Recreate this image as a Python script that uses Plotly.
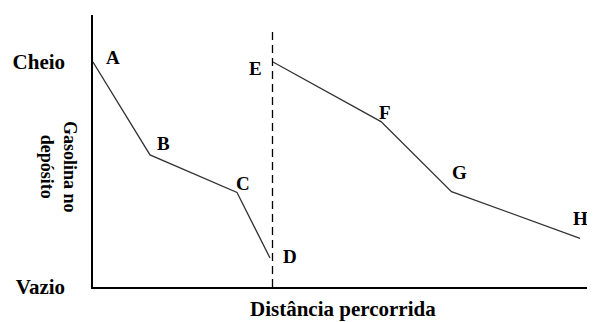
import plotly.graph_objects as go

# trecho antes do reabastecimento (A-D) e depois (E-H)
labels_1 = ['A', 'B', 'C', 'D']
dist_1 = [0.0, 1.14, 2.88, 3.54]
gas_1 = [1.0, 0.587, 0.42, 0.129]

labels_2 = ['E', 'F', 'G', 'H']
dist_2 = [3.6, 5.76, 7.17, 9.74]
gas_2 = [1.0, 0.735, 0.424, 0.216]

refuel_x = 3.59
level_ticks = [0, 1]
level_text = ['Vazio', 'Cheio']

serif = dict(family='Liberation Serif', color='black', weight='bold')

fig = go.Figure()
for xs, ys in [(dist_1, gas_1), (dist_2, gas_2)]:
    fig.add_trace(go.Scatter(x=xs, y=ys, mode='lines',
                             line=dict(color='#333333', width=1.3),
                             showlegend=False, hoverinfo='skip'))

# dashed line where the tank is refilled
fig.add_shape(type='line', x0=refuel_x, x1=refuel_x, y0=0, y1=1.151,
              line=dict(color='black', width=1.3, dash='8px,5px'))

# point letters (pixel offsets from each point)
offsets = {'A': (20, 5), 'B': (13, 11), 'C': (6, 9), 'D': (20, 1),
           'E': (-18, -6), 'F': (4, 9), 'G': (8, 19), 'H': (0, 20)}
for labs, xs, ys in [(labels_1, dist_1, gas_1), (labels_2, dist_2, gas_2)]:
    for lab, x, y in zip(labs, xs, ys):
        dx, dy = offsets[lab]
        fig.add_annotation(x=x, y=y, text=lab, showarrow=False,
                           xshift=dx, yshift=dy, font=dict(size=19, **serif))

fig.add_annotation(xref='paper', yref='y', x=0, y=0.533, xshift=-34,
                   xanchor='center', yanchor='middle',
                   text='Gasolina no<br>depósito', textangle=90, showarrow=False,
                   font=dict(size=18, **serif))
fig.add_annotation(xref='paper', yref='paper', x=0.5, y=0, yshift=-22,
                   yanchor='middle', text='Distância percorrida', showarrow=False,
                   font=dict(size=21, **serif))

fig.update_xaxes(range=[0, 10], showline=True, linecolor='black', linewidth=1.5,
                 showgrid=False, zeroline=False, showticklabels=False, ticks='',
                 automargin=False)
fig.update_yaxes(range=[0, 1.209], showline=True, linecolor='black', linewidth=1.5,
                 showgrid=False, zeroline=False, tickvals=level_ticks,
                 ticktext=level_text, ticks='', ticklabelstandoff=22,
                 tickfont=dict(size=21, **serif), automargin=False)

# the page body adds 8px around the figure, so the figure is 8px smaller
fig.update_layout(width=587, height=314,
                  margin=dict(l=85, r=2, t=7, b=35, autoexpand=False),
                  plot_bgcolor='white', paper_bgcolor='white')

fig.write_html('out.html')
